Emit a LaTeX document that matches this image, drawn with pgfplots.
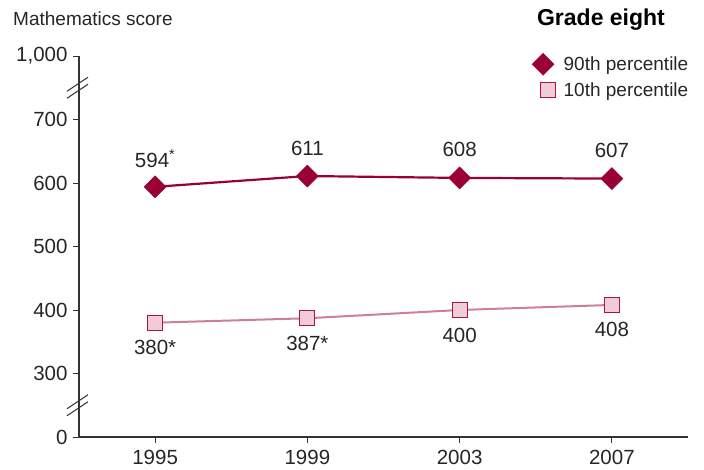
\documentclass[border=0pt]{standalone}
\usepackage{fontspec}
\setmainfont{Liberation Sans}
\usepackage{pgfplots}
\pgfplotsset{compat=1.18}
\definecolor{darkred}{HTML}{990033}
\definecolor{pinkfill}{HTML}{EFCCD6}
\definecolor{pinkedge}{HTML}{A8153F}
\definecolor{pinkline}{HTML}{CC7F96}
\definecolor{axisgray}{HTML}{333333}
\begin{document}
\begin{tikzpicture}
\path[use as bounding box] (-79pt,-32pt) rectangle (625pt,437pt);
\begin{axis}[
  scale only axis, width=609pt, height=381pt,
  xmin=1993, xmax=2009, ymin=200, ymax=800,
  axis x line*=bottom, axis y line*=left,
  axis line style={-, axisgray, line width=1.2pt},
  tick style={axisgray, line width=1pt},
  tick align=outside, major tick length=6pt,
  xtick={1995,1999,2003,2007},
  xticklabels={1995,1999,2003,2007},
  ytick={200,300,400,500,600,700,800},
  yticklabels={0,300,400,500,600,700,{1,000}},
  ticklabel style={font=\fontsize{20.5}{24}\selectfont, text=black!85},
  xticklabel style={yshift=-4pt},
  yticklabel style={xshift=-2pt},
  /pgf/number format/assume math mode=true,
  clip=false,
  legend image code/.code={\path[draw=none, fill=none] (-9pt,0pt) -- (19pt,0pt); \draw[#1] plot coordinates {(0pt,0pt)};},
  legend style={draw=none, fill=none, at={(1,1)}, anchor=north east, xshift=2pt, yshift=3pt,
    font=\fontsize{19}{22}\selectfont, text=black!85, inner sep=0pt, row sep=6pt,
    nodes={inner sep=1.5pt}},
  legend cell align=left,
]
\addplot[darkred, line width=2.2pt, mark=square*, mark size=7.8pt,
  mark options={rotate=45, solid, fill=darkred, draw=darkred, line width=0.5pt},
  nodes near coords, point meta=explicit symbolic,
  every node near coord/.append style={anchor=center, yshift=28pt, text=black!85, font=\fontsize{20.5}{24}\selectfont},
  forget plot]
  coordinates {(1995,594) [594\textsuperscript{*}] (1999,611) [611] (2003,608) [608] (2007,607) [607]};
\addplot[pinkline, line width=2pt, mark=square*, mark size=7.5pt,
  mark options={solid, fill=pinkfill, draw=pinkedge, line width=1pt},
  nodes near coords, point meta=explicit symbolic,
  every node near coord/.append style={anchor=center, yshift=-25pt, text=black!85, font=\fontsize{20.5}{24}\selectfont},
  forget plot]
  coordinates {(1995,380) [380*] (1999,387) [387*] (2003,400) [400] (2007,408) [408]};
\addlegendimage{only marks, mark=square*, mark size=7.8pt, mark options={rotate=45, fill=darkred, draw=darkred}}
\addlegendentry{90th percentile}
\addlegendimage{only marks, mark=square*, mark size=7.5pt, mark options={xshift=5pt, fill=pinkfill, draw=pinkedge, line width=1pt}}
\addlegendentry{10th percentile}
\draw[axisgray, line width=1pt] ([xshift=-12pt, yshift=-10.5pt]axis cs:1993,750) -- ++(21pt,14pt);
\draw[axisgray, line width=1pt] ([xshift=-12pt, yshift=-3.5pt]axis cs:1993,750) -- ++(21pt,14pt);
\draw[axisgray, line width=1pt] ([xshift=-12pt, yshift=-10.5pt]axis cs:1993,250) -- ++(21pt,14pt);
\draw[axisgray, line width=1pt] ([xshift=-12pt, yshift=-3.5pt]axis cs:1993,250) -- ++(21pt,14pt);
\end{axis}
\node[anchor=west, inner sep=0pt, font=\fontsize{19}{22}\selectfont, text=black!85] at (-66pt,418pt) {Mathematics score};
\node[anchor=center, inner sep=0pt, font=\fontsize{23}{27}\selectfont\bfseries] at (522pt,417pt) {Grade eight};
\end{tikzpicture}
\end{document}
